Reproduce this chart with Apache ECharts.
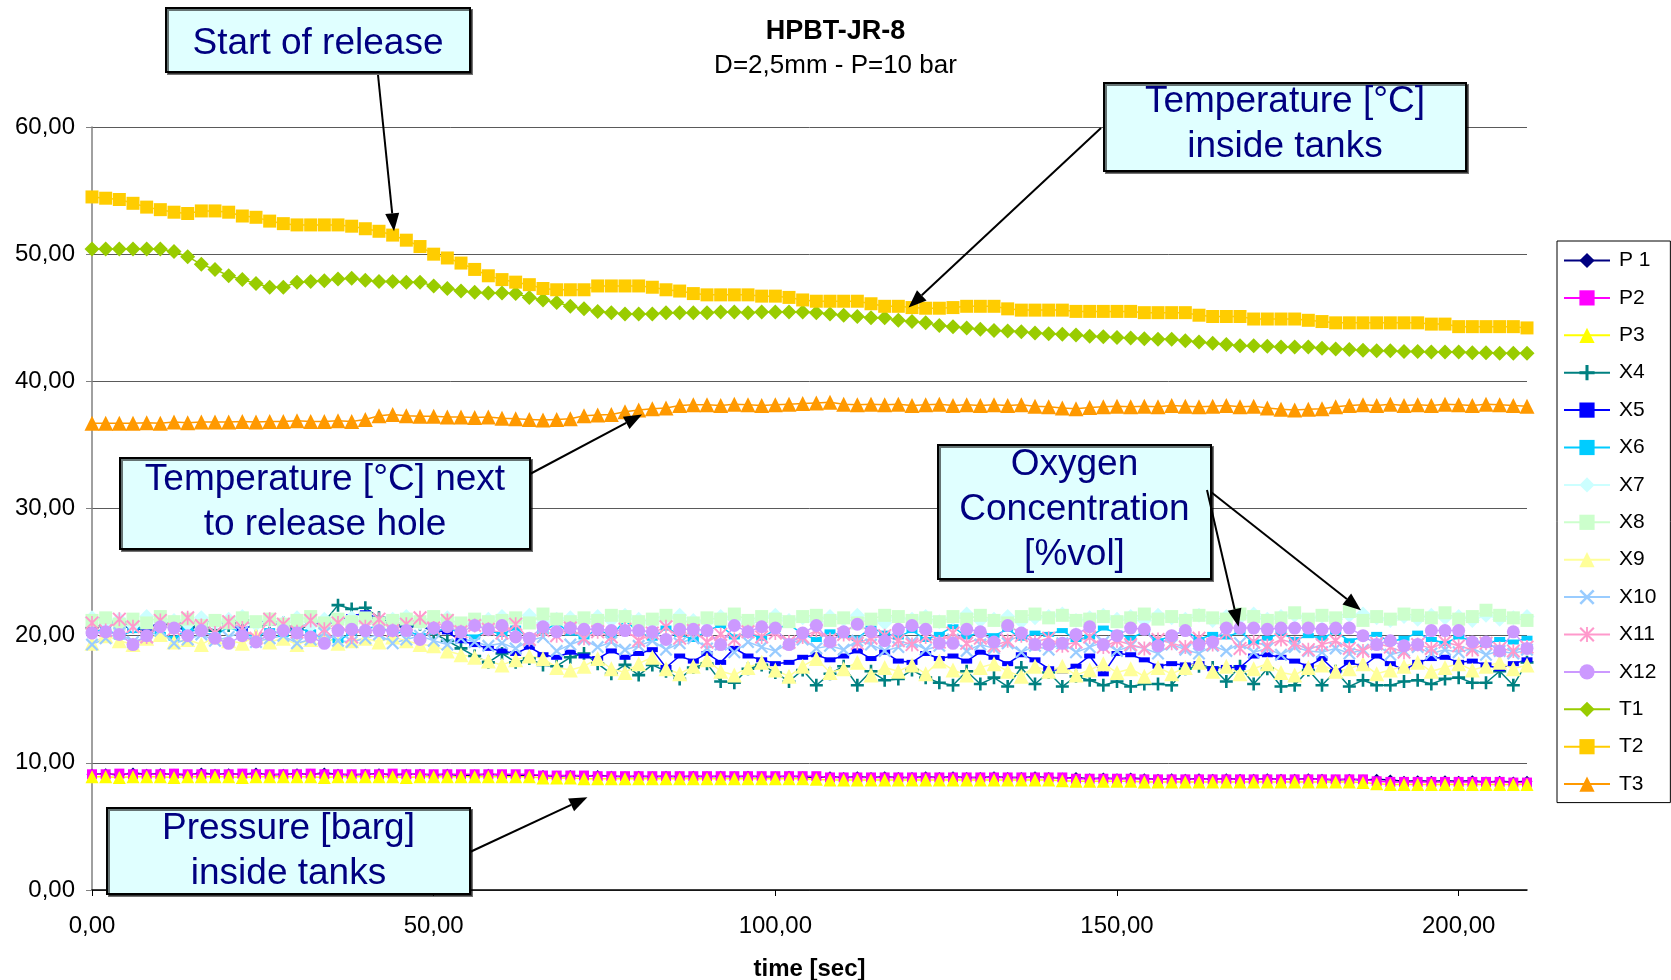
<!DOCTYPE html>
<html>
<head>
<meta charset="utf-8">
<script src="https://cdn.jsdelivr.net/npm/echarts@6/dist/echarts.min.js"></script>
<style>
  html, body { margin: 0; padding: 0; background: #fff; }
  #chart { width: 1671px; height: 980px; }
</style>
</head>
<body>
<div id="chart"></div>
<script>
// sample times (s)
const seconds = [
  0, 2, 4, 6, 8, 10, 12, 14, 16, 18,
  20, 22, 24, 26, 28, 30, 32, 34, 36, 38,
  40, 42, 44, 46, 48, 50, 52, 54, 56, 58,
  60, 62, 64, 66, 68, 70, 72, 74, 76, 78,
  80, 82, 84, 86, 88, 90, 92, 94, 96, 98,
  100, 102, 104, 106, 108, 110, 112, 114, 116, 118,
  120, 122, 124, 126, 128, 130, 132, 134, 136, 138,
  140, 142, 144, 146, 148, 150, 152, 154, 156, 158,
  160, 162, 164, 166, 168, 170, 172, 174, 176, 178,
  180, 182, 184, 186, 188, 190, 192, 194, 196, 198,
  200, 202, 204, 206, 208, 210
];

// pressure [barg]
const p1 = [
  9.10, 9.15, 9.05, 9.20, 9.10, 9.15, 9.10, 9.05, 9.20, 9.10,
  9.15, 9.10, 9.20, 9.05, 9.10, 9.15, 9.10, 9.20, 9.10, 9.05,
  9.10, 9.15, 9.05, 9.10, 9.10, 9.05, 9.10, 9.00, 9.05, 9.10,
  9.05, 9.00, 9.05, 9.00, 8.95, 9.00, 8.95, 9.00, 8.95, 8.90,
  8.95, 8.90, 8.95, 8.90, 8.95, 8.90, 8.95, 8.90, 8.95, 8.90,
  8.90, 8.95, 8.90, 8.85, 8.90, 8.85, 8.90, 8.85, 8.90, 8.85,
  8.85, 8.90, 8.85, 8.90, 8.85, 8.85, 8.90, 8.85, 8.85, 8.90,
  8.85, 8.80, 8.85, 8.75, 8.80, 8.75, 8.80, 8.75, 8.70, 8.75,
  8.70, 8.75, 8.70, 8.75, 8.70, 8.70, 8.75, 8.70, 8.70, 8.75,
  8.70, 8.65, 8.70, 8.65, 8.70, 8.65, 8.55, 8.60, 8.55, 8.60,
  8.55, 8.60, 8.50, 8.55, 8.50, 8.55
];
const p2 = [
  9.10, 9.10, 9.15, 9.10, 9.10, 9.10, 9.15, 9.10, 9.10, 9.10,
  9.10, 9.15, 9.10, 9.10, 9.10, 9.10, 9.15, 9.10, 9.10, 9.10,
  9.10, 9.10, 9.15, 9.10, 9.10, 9.10, 9.10, 9.10, 9.10, 9.10,
  9.10, 9.10, 9.10, 9.00, 9.00, 9.00, 9.00, 8.95, 8.95, 8.95,
  8.95, 8.95, 8.95, 8.95, 8.95, 8.95, 8.95, 8.95, 8.95, 8.95,
  8.95, 8.95, 8.95, 8.95, 8.85, 8.85, 8.85, 8.85, 8.85, 8.85,
  8.85, 8.85, 8.85, 8.85, 8.85, 8.85, 8.85, 8.85, 8.85, 8.85,
  8.85, 8.85, 8.75, 8.75, 8.75, 8.75, 8.75, 8.70, 8.70, 8.70,
  8.70, 8.70, 8.70, 8.70, 8.70, 8.70, 8.70, 8.70, 8.70, 8.70,
  8.70, 8.70, 8.70, 8.70, 8.55, 8.50, 8.50, 8.50, 8.50, 8.50,
  8.50, 8.50, 8.50, 8.50, 8.45, 8.45
];
const p3 = [
  8.90, 8.90, 8.85, 8.90, 8.90, 8.90, 8.85, 8.90, 8.90, 8.90,
  8.90, 8.85, 8.90, 8.90, 8.90, 8.90, 8.90, 8.85, 8.90, 8.90,
  8.90, 8.90, 8.90, 8.85, 8.90, 8.90, 8.90, 8.90, 8.90, 8.90,
  8.90, 8.90, 8.90, 8.80, 8.80, 8.80, 8.75, 8.75, 8.75, 8.75,
  8.75, 8.75, 8.75, 8.75, 8.75, 8.75, 8.75, 8.75, 8.75, 8.75,
  8.75, 8.75, 8.75, 8.70, 8.65, 8.65, 8.65, 8.65, 8.65, 8.65,
  8.65, 8.65, 8.65, 8.65, 8.65, 8.65, 8.65, 8.65, 8.65, 8.65,
  8.65, 8.60, 8.55, 8.55, 8.55, 8.55, 8.55, 8.50, 8.50, 8.50,
  8.50, 8.50, 8.50, 8.50, 8.50, 8.50, 8.50, 8.50, 8.50, 8.50,
  8.50, 8.50, 8.50, 8.45, 8.35, 8.30, 8.30, 8.30, 8.30, 8.30,
  8.30, 8.30, 8.30, 8.30, 8.30, 8.30
];

// oxygen concentration [%vol]
const x4 = [
  20.6, 20.9, 21.1, 20.7, 20.3, 20.8, 21.0, 20.6, 20.9, 20.4,
  20.8, 21.2, 20.7, 20.9, 21.0, 20.5, 20.8, 21.1, 22.4, 22.1,
  22.2, 21.4, 21.0, 20.7, 20.9, 20.2, 19.6, 19.0, 18.4, 17.9,
  18.6, 17.9, 18.2, 17.7, 17.6, 18.3, 18.6, 17.8, 17.0, 17.7,
  16.9, 17.7, 17.2, 16.6, 17.5, 17.8, 16.4, 16.3, 17.4, 17.7,
  17.1, 16.4, 17.3, 16.1, 17.0, 17.6, 16.1, 17.2, 16.5, 16.6,
  17.3, 16.7, 16.3, 16.1, 17.2, 16.2, 16.7, 16.0, 17.5, 16.2,
  17.1, 16.0, 16.8, 16.5, 16.1, 16.4, 16.0, 16.2, 16.2, 16.1,
  17.4, 17.6, 17.5, 16.4, 17.6, 16.2, 17.4, 16.0, 16.1, 17.3,
  16.1, 17.2, 16.0, 16.5, 16.1, 16.1, 16.4, 16.5, 16.2, 16.6,
  16.7, 16.3, 16.3, 17.2, 16.1, 17.9
];
const x5 = [
  21.5, 21.3, 20.9, 20.5, 20.6, 21.0, 20.7, 20.4, 20.9, 21.2,
  20.8, 20.5, 20.9, 21.3, 20.7, 20.6, 21.0, 20.8, 21.2, 21.5,
  21.8, 21.3, 20.9, 20.6, 20.8, 20.4, 20.3, 19.6, 19.3, 19.0,
  18.8, 18.6, 19.1, 18.5, 18.3, 18.7, 18.4, 18.2, 18.8, 18.3,
  18.6, 18.9, 17.5, 18.4, 18.0, 18.6, 17.9, 19.0, 18.4, 18.1,
  17.8, 17.9, 18.3, 18.5, 18.1, 18.4, 18.8, 18.2, 18.7, 18.0,
  17.9, 18.6, 18.2, 18.4, 18.0, 18.7, 18.3, 17.8, 18.5, 18.1,
  17.4, 17.2, 17.6, 18.4, 17.0, 18.6, 18.5, 18.1, 17.6, 17.8,
  17.7, 17.8, 17.4, 17.5, 17.5, 18.4, 18.5, 18.3, 18.0, 17.6,
  18.2, 17.2, 17.9, 17.6, 18.4, 17.8, 17.3, 17.9, 18.2, 18.3,
  17.9, 18.0, 17.7, 17.4, 17.8, 18.1
];
const x6 = [
  20.2, 20.6, 19.9, 20.4, 20.8, 20.1, 19.8, 20.5, 20.3, 20.0,
  20.7, 20.2, 19.9, 20.4, 20.1, 20.6, 20.3, 19.7, 19.6, 20.2,
  20.5, 20.8, 20.1, 20.4, 20.0, 20.3, 20.6, 20.2, 19.9, 20.4,
  20.1, 20.6, 19.8, 20.3, 21.0, 20.2, 19.9, 20.5, 20.0, 21.2,
  20.3, 19.8, 20.6, 20.1, 19.7, 20.4, 20.8, 19.9, 20.2, 19.8,
  20.5, 20.9, 20.1, 19.7, 20.3, 20.0, 19.8, 20.6, 20.2, 19.9,
  20.4, 19.7, 20.1, 20.7, 19.9, 20.3, 20.0, 20.5, 19.8, 20.2,
  20.1, 20.4, 19.7, 19.9, 20.6, 20.2, 19.8, 20.3, 19.6, 20.0,
  20.4, 19.7, 20.1, 19.9, 20.3, 19.5, 19.8, 20.2, 19.7, 20.0,
  19.8, 20.3, 19.6, 19.9, 20.1, 19.5, 19.8, 20.2, 19.7, 19.4,
  19.9, 19.6, 19.3, 19.7, 19.5, 19.8
];
const x7 = [
  21.4, 21.0, 21.3, 20.8, 21.5, 21.1, 21.2, 20.9, 21.4, 21.0,
  21.3, 21.5, 20.9, 21.2, 21.0, 21.4, 20.8, 21.3, 21.1, 21.4,
  21.2, 20.9, 21.3, 21.5, 21.0, 21.2, 21.4, 20.9, 21.1, 21.3,
  21.5, 21.2, 21.6, 21.0, 21.3, 21.4, 21.1, 21.5, 21.2, 21.6,
  21.3, 21.0, 21.4, 21.6, 21.2, 21.1, 21.5, 21.3, 21.0, 21.4,
  21.6, 21.2, 21.4, 21.1, 21.5, 21.3, 21.6, 21.2, 21.0, 21.4,
  21.3, 21.5, 21.1, 21.4, 21.7, 21.2, 21.3, 21.5, 21.1, 21.4,
  21.5, 21.7, 21.2, 21.4, 21.6, 21.3, 21.5, 21.2, 21.6, 21.4,
  21.3, 21.6, 21.2, 21.5, 21.4, 21.7, 21.3, 21.5, 21.6, 21.2,
  21.5, 21.3, 21.6, 21.7, 21.4, 21.2, 21.5, 21.3, 21.6, 21.4,
  21.5, 21.2, 21.6, 21.3, 21.4, 21.5
];
const x8 = [
  21.2, 21.4, 20.9, 21.3, 21.0, 21.5, 21.1, 21.3, 20.8, 21.2,
  21.0, 21.4, 21.1, 21.3, 20.9, 21.2, 21.5, 21.0, 21.3, 21.1,
  21.4, 21.0, 21.2, 21.3, 21.1, 21.5, 21.2, 21.0, 21.3, 21.1,
  21.2, 21.4, 21.0, 21.7, 21.3, 21.1, 21.4, 21.2, 21.6, 21.5,
  21.1, 21.3, 21.6, 21.2, 21.0, 21.4, 21.3, 21.7, 21.2, 21.5,
  21.3, 21.1, 21.5, 21.6, 21.2, 21.4, 21.0, 21.3, 21.6, 21.5,
  21.2, 21.4, 21.1, 21.5, 21.3, 21.6, 21.2, 21.0, 21.5, 21.7,
  21.4, 21.6, 21.2, 21.3, 21.5, 21.1, 21.4, 21.7, 21.3, 21.5,
  21.2, 21.6, 21.4, 21.3, 21.7, 21.5, 21.2, 21.4, 21.8, 21.3,
  21.6, 21.4, 21.9, 21.2, 21.5, 21.3, 21.7, 21.6, 21.4, 21.8,
  21.3, 21.5, 22.0, 21.6, 21.4, 21.2
];
const x9 = [
  19.4, 20.0, 19.6, 19.3, 19.8, 20.1, 19.5, 19.7, 19.3, 19.9,
  19.6, 19.4, 20.0, 19.5, 19.8, 19.3, 19.7, 19.9, 19.4, 19.6,
  19.8, 19.5, 19.9, 19.6, 19.3, 19.2, 18.8, 18.5, 18.3, 18.0,
  17.7, 18.1, 18.4, 18.2, 17.5, 17.3, 17.6, 18.2, 17.4, 17.1,
  17.8, 18.3, 17.4, 17.0, 17.6, 18.1, 17.2, 16.9, 17.5, 17.9,
  17.3, 16.8, 17.6, 18.2, 17.1, 17.4, 17.9, 16.9, 17.5, 17.2,
  17.7, 17.0, 18.0, 17.3, 16.9, 17.5, 17.8, 17.2, 16.8, 17.6,
  17.2, 17.6, 16.9, 17.3, 17.8, 17.1, 17.4, 16.8, 17.5, 17.0,
  17.5, 17.9, 17.2, 17.6, 17.0, 17.4, 17.8, 17.1, 16.9, 17.5,
  17.7, 17.2, 17.4, 17.8, 17.0, 17.3, 17.6, 17.9, 17.2, 17.5,
  17.8, 17.3, 17.6, 17.9, 17.4, 17.7
];
const x10 = [
  19.3, 19.8, 20.2, 19.5, 19.9, 20.4, 19.4, 19.7, 20.1, 19.6,
  19.9, 20.3, 19.5, 19.8, 20.0, 19.4, 19.7, 20.2, 19.6, 19.5,
  19.8, 20.1, 19.4, 19.7, 20.0, 19.6, 19.3, 19.8, 19.5, 19.2,
  19.4, 19.0, 19.6, 19.9, 18.8, 19.3, 19.7, 19.1, 19.5, 18.9,
  19.2, 19.6, 18.9, 19.4, 19.8, 19.0, 19.3, 18.7, 19.5, 19.1,
  18.8, 19.4, 19.7, 19.0, 19.2, 18.9, 19.6, 19.3, 18.8, 19.1,
  19.5, 18.9, 19.2, 19.7, 18.8, 19.3, 19.0, 19.4, 18.7, 19.2,
  18.9, 19.4, 18.7, 19.1, 19.5, 18.8, 19.2, 19.0, 18.6, 19.3,
  18.9, 18.6, 19.2, 18.8, 19.4, 18.7, 19.0, 18.5, 19.1, 18.8,
  18.7, 19.0, 18.6, 18.9, 19.3, 18.5, 18.8, 19.1, 18.6, 18.9,
  18.7, 19.0, 18.5, 18.8, 18.6, 18.9
];
const x11 = [
  21.0, 20.4, 21.3, 20.7, 19.9, 21.2, 20.5, 21.4, 20.8, 20.2,
  21.1, 20.6, 19.8, 21.3, 20.9, 20.3, 21.2, 20.5, 21.0, 19.9,
  20.7, 21.3, 20.4, 20.9, 21.4, 20.6, 21.2, 20.3, 20.8, 20.5,
  20.2, 20.9, 19.7, 20.4, 20.0, 20.6, 19.8, 20.3, 19.9, 20.5,
  19.6, 20.2, 20.7, 19.8, 20.4, 19.5, 20.1, 19.7, 20.3, 19.9,
  20.2, 19.5, 19.9, 20.4, 19.7, 20.1, 19.4, 19.8, 20.0, 19.6,
  19.3, 19.9, 19.5, 20.2, 19.4, 19.8, 19.2, 19.6, 20.0, 19.5,
  19.8, 19.2, 19.5, 19.9, 19.1, 19.6, 19.3, 19.0, 19.7, 19.4,
  19.1, 19.8, 19.3, 20.2, 19.0, 19.5, 19.2, 19.7, 19.4, 18.9,
  19.3, 19.6, 19.0, 18.8, 19.4, 19.1, 18.7, 19.3, 19.0, 19.5,
  19.2, 18.9, 19.4, 19.0, 18.8, 19.1
];
const x12 = [
  20.2, 20.3, 20.1, 19.3, 20.0, 20.7, 20.6, 20.0, 20.4, 19.8,
  19.4, 20.0, 19.5, 20.1, 20.4, 20.2, 19.9, 19.4, 20.4, 20.5,
  20.4, 20.4, 20.4, 20.4, 19.7, 20.6, 20.7, 20.3, 20.8, 20.5,
  20.8, 19.9, 19.8, 20.7, 20.3, 20.6, 20.5, 20.5, 20.4, 20.4,
  20.4, 20.3, 19.7, 20.5, 20.5, 20.4, 19.3, 20.8, 20.3, 20.7,
  20.6, 19.3, 20.2, 20.8, 19.5, 20.3, 20.9, 20.3, 19.6, 20.5,
  20.8, 20.5, 19.4, 19.4, 20.5, 20.3, 19.5, 20.8, 20.2, 19.3,
  19.3, 19.4, 20.1, 20.7, 19.3, 20.0, 20.6, 20.5, 19.2, 20.0,
  20.4, 19.3, 19.5, 20.6, 20.6, 20.6, 20.5, 20.6, 20.6, 20.6,
  20.5, 20.6, 20.6, 20.0, 19.3, 19.6, 19.2, 19.3, 20.4, 20.4,
  20.4, 19.5, 19.5, 18.8, 20.3, 19.0
];

// temperature [°C]
const t1 = [
  50.4, 50.4, 50.4, 50.4, 50.4, 50.4, 50.2, 49.8, 49.2, 48.8,
  48.3, 48.0, 47.7, 47.4, 47.4, 47.8, 47.85, 47.9, 48.05, 48.1,
  47.95, 47.85, 47.85, 47.8, 47.8, 47.5, 47.3, 47.1, 47.0, 46.95,
  46.95, 46.9, 46.6, 46.4, 46.2, 45.9, 45.7, 45.5, 45.4, 45.3,
  45.3, 45.3, 45.4, 45.4, 45.4, 45.4, 45.45, 45.45, 45.4, 45.45,
  45.45, 45.45, 45.45, 45.4, 45.3, 45.2, 45.1, 45.0, 45.0, 44.8,
  44.7, 44.6, 44.4, 44.3, 44.2, 44.1, 44.0, 43.95, 43.9, 43.8,
  43.75, 43.7, 43.65, 43.55, 43.5, 43.45, 43.4, 43.35, 43.3, 43.3,
  43.2, 43.1, 43.0, 42.9, 42.8, 42.8, 42.75, 42.7, 42.7, 42.7,
  42.6, 42.55, 42.5, 42.45, 42.4, 42.4, 42.35, 42.35, 42.3, 42.3,
  42.3, 42.25, 42.25, 42.2, 42.2, 42.2
];
const t2 = [
  54.5, 54.4, 54.3, 54.0, 53.7, 53.5, 53.3, 53.2, 53.4, 53.4,
  53.3, 53.0, 52.9, 52.6, 52.4, 52.3, 52.3, 52.3, 52.3, 52.2,
  52.0, 51.8, 51.5, 51.1, 50.6, 50.0, 49.7, 49.3, 48.8, 48.3,
  48.0, 47.8, 47.6, 47.3, 47.2, 47.2, 47.2, 47.5, 47.5, 47.5,
  47.5, 47.4, 47.2, 47.1, 46.9, 46.8, 46.8, 46.8, 46.8, 46.7,
  46.7, 46.6, 46.4, 46.3, 46.3, 46.3, 46.3, 46.1, 45.9, 45.9,
  45.8, 45.75, 45.75, 45.8, 45.9, 45.9, 45.9, 45.7, 45.6, 45.6,
  45.6, 45.6, 45.5, 45.5, 45.5, 45.5, 45.5, 45.4, 45.4, 45.4,
  45.4, 45.2, 45.1, 45.1, 45.1, 44.9, 44.9, 44.9, 44.9, 44.8,
  44.7, 44.6, 44.6, 44.6, 44.6, 44.6, 44.6, 44.6, 44.5, 44.5,
  44.3, 44.3, 44.3, 44.3, 44.3, 44.2
];
const t3 = [
  36.7, 36.7, 36.7, 36.7, 36.75, 36.7, 36.8, 36.75, 36.8, 36.8,
  36.8, 36.85, 36.8, 36.85, 36.85, 36.9, 36.85, 36.85, 36.9, 36.85,
  37.0, 37.3, 37.4, 37.3, 37.25, 37.25, 37.2, 37.2, 37.15, 37.2,
  37.1, 37.05, 37.0, 36.95, 37.0, 37.05, 37.3, 37.35, 37.4, 37.6,
  37.75, 37.85, 37.9, 38.1, 38.15, 38.15, 38.1, 38.2, 38.15, 38.1,
  38.15, 38.2, 38.25, 38.3, 38.35, 38.2, 38.15, 38.2, 38.15, 38.2,
  38.1, 38.15, 38.2, 38.1, 38.15, 38.1, 38.15, 38.1, 38.15, 38.05,
  38.0, 37.9, 37.85, 37.95, 38.0, 38.05, 38.0, 38.05, 38.0, 38.1,
  38.05, 38.0, 38.05, 38.1, 38.0, 38.05, 37.9, 37.8, 37.75, 37.8,
  37.85, 38.0, 38.1, 38.15, 38.1, 38.2, 38.1, 38.15, 38.1, 38.2,
  38.15, 38.1, 38.2, 38.15, 38.1, 38.05
];

const xTicks = [0, 50, 100, 150, 200];

// marker shapes Excel uses that echarts lacks
const PLUS = 'path://M4,0H6V4H10V6H6V10H4V6H0V4H4Z';
const CROSS = 'path://M1.2,0L10,8.8L8.8,10L0,1.2Z M8.8,0L10,1.2L1.2,10L0,8.8Z';
const STAR = 'path://M4.4,0H5.6V10H4.4Z M1,0L10,9L9,10L0,1Z M9,0L10,1L1,10L0,9Z';

const seriesDefs = [
  { name: 'P 1', values: p1, color: '#000080', symbol: 'diamond', size: 11 },
  { name: 'P2', values: p2, color: '#FF00FF', symbol: 'rect', size: 10 },
  { name: 'P3', values: p3, color: '#FFFF00', symbol: 'triangle', size: 13 },
  { name: 'X4', values: x4, color: '#008080', symbol: PLUS, size: 13 },
  { name: 'X5', values: x5, color: '#0000FF', symbol: 'rect', size: [11, 5] },
  { name: 'X6', values: x6, color: '#00CCFF', symbol: 'rect', size: [11, 5] },
  { name: 'X7', values: x7, color: '#CCFFFF', symbol: 'diamond', size: 15 },
  { name: 'X8', values: x8, color: '#CCFFCC', symbol: 'rect', size: 13 },
  { name: 'X9', values: x9, color: '#FFFF99', symbol: 'triangle', size: 15 },
  { name: 'X10', values: x10, color: '#99CCFF', symbol: CROSS, size: 13 },
  { name: 'X11', values: x11, color: '#FF99CC', symbol: STAR, size: 14 },
  { name: 'X12', values: x12, color: '#CC99FF', symbol: 'circle', size: 13 },
  { name: 'T1', values: t1, color: '#99CC00', symbol: 'diamond', size: 15 },
  { name: 'T2', values: t2, color: '#FFCC00', symbol: 'rect', size: 13 },
  { name: 'T3', values: t3, color: '#FF9900', symbol: 'triangle', size: 15 }
];

const FONT = '"Liberation Sans", Arial, sans-serif';
const fmt = v => v.toFixed(2).replace('.', ',');

const chart = echarts.init(document.getElementById('chart'));
chart.setOption({
  animation: false,
  backgroundColor: '#fff',
  textStyle: { fontFamily: FONT },
  title: {
    text: 'HPBT-JR-8',
    subtext: 'D=2,5mm - P=10 bar',
    left: 'center',
    top: 13,
    itemGap: 8,
    textStyle: { fontFamily: FONT, fontSize: 27, fontWeight: 'bold', color: '#000' },
    subtextStyle: { fontFamily: FONT, fontSize: 26, color: '#000' }
  },
  grid: { left: 92, right: 144, top: 127, bottom: 90, outerBoundsMode: 'none' },
  legend: {
    orient: 'vertical',
    left: 1557,
    top: 241,
    width: 105,
    padding: [9, 14, 8, 6],
    itemGap: 16.4,
    itemWidth: 46,
    itemHeight: 19,
    borderColor: '#000',
    borderWidth: 1,
    textStyle: { fontFamily: FONT, fontSize: 21, color: '#000', padding: [0, 0, 0, 4] },
    data: seriesDefs.map(s => s.name)
  },
  xAxis: {
    type: 'value',
    min: 0,
    max: 210,
    interval: 50,
    name: 'time [sec]',
    nameLocation: 'middle',
    nameGap: 67,
    nameTextStyle: { fontFamily: FONT, fontSize: 24, fontWeight: 'bold', color: '#000' },
    axisLine: { lineStyle: { color: '#000', width: 1.5 } },
    axisTick: { customValues: xTicks, length: 6, lineStyle: { color: '#000' } },
    axisLabel: { customValues: xTicks, formatter: fmt, fontSize: 24, color: '#000', margin: 24, fontFamily: FONT },
    splitLine: { show: false }
  },
  yAxis: {
    type: 'value',
    min: 0,
    max: 60,
    interval: 10,
    axisLine: { show: true, lineStyle: { color: '#808080', width: 1.5 } },
    axisTick: { show: true, length: 6, lineStyle: { color: '#808080' } },
    axisLabel: { formatter: fmt, fontSize: 24, color: '#000', margin: 17, fontFamily: FONT },
    splitLine: { lineStyle: { color: '#5a5a5a', width: 1 } }
  },
  series: seriesDefs.map(s => ({
    name: s.name,
    type: 'line',
    data: seconds.map((t, i) => [t, s.values[i]]),
    symbol: s.symbol,
    symbolSize: s.size,
    showSymbol: true,
    color: s.color,
    itemStyle: { color: s.color, borderWidth: 0 },
    lineStyle: { color: s.color, width: 1.5 },
    emphasis: { disabled: true }
  }))
});

// text boxes with arrows pointing at data, like the original call-outs
const notes = [
  { lines: ['Start of release'], box: [166, 8, 304, 64], dy: 4 },
  { lines: ['Temperature [°C]', 'inside tanks'], box: [1104, 83, 362, 88], dy: -3 },
  { lines: ['Temperature [°C] next', 'to release hole'], box: [120, 458, 410, 91], dy: -1 },
  { lines: ['Oxygen', 'Concentration', '[%vol]'], box: [938, 445, 273, 134], dy: -2 },
  { lines: ['Pressure [barg]', 'inside tanks'], box: [107, 808, 363, 86], dy: 0 }
];
const arrows = [
  { from: [378, 75], at: [44.2, 51.8] },
  { from: [1101, 128], at: [119.5, 45.8] },
  { from: [530, 474], at: [80.5, 37.4] },
  { from: [1207, 490], at: [167.8, 20.7] },
  { from: [1211, 492], at: [185.7, 22.0] },
  { from: [470, 852], at: [72.5, 7.3] }
];

function arrowParts(sx, sy, tx, ty) {
  const dx = tx - sx, dy = ty - sy, len = Math.hypot(dx, dy);
  const ux = dx / len, uy = dy / len;
  const head = 18, half = 7;
  const bx = tx - ux * head, by = ty - uy * head;
  return [
    { type: 'line', z: 100, shape: { x1: sx, y1: sy, x2: bx, y2: by }, style: { stroke: '#000', lineWidth: 2 } },
    { type: 'polygon', z: 100, shape: { points: [[tx, ty], [bx - uy * half, by + ux * half], [bx + uy * half, by - ux * half]] }, style: { fill: '#000' } }
  ];
}

const graphics = [];
notes.forEach(n => {
  const [x, y, w, h] = n.box;
  graphics.push({
    type: 'rect', z: 100,
    shape: { x: x, y: y, width: w, height: h },
    style: { fill: '#E0FFFF', stroke: '#000', lineWidth: 2, shadowColor: 'rgba(0,0,0,0.55)', shadowOffsetX: 2, shadowOffsetY: 2, shadowBlur: 0 }
  });
  graphics.push({
    type: 'text', z: 101,
    style: {
      text: n.lines.join('\n'),
      x: x + w / 2,
      y: y + h / 2 + n.dy,
      align: 'center',
      verticalAlign: 'middle',
      lineHeight: 45,
      font: '37px ' + FONT,
      fill: '#000080'
    }
  });
});
arrows.forEach(a => {
  const tip = chart.convertToPixel({ gridIndex: 0 }, a.at);
  arrowParts(a.from[0], a.from[1], tip[0], tip[1]).forEach(g => graphics.push(g));
});
chart.setOption({ graphic: graphics });
</script>
</body>
</html>
